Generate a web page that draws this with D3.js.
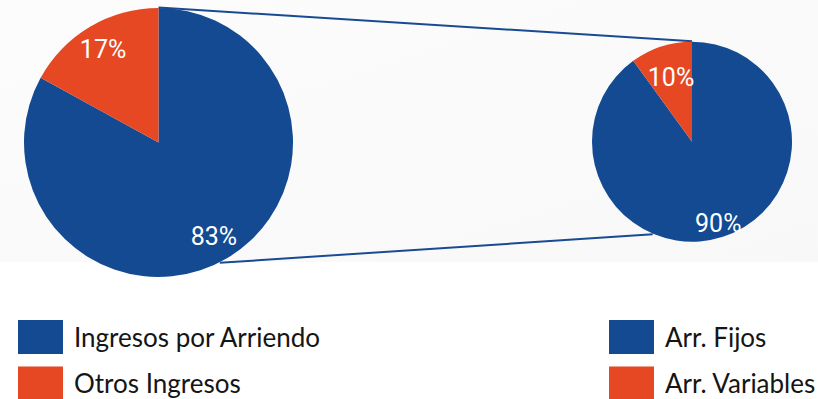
<!DOCTYPE html>
<html>
<head>
<meta charset="utf-8">
<script src="https://cdn.jsdelivr.net/npm/d3@7"></script>
<style>
  body { margin: 0; background: #fff; }
  svg { display: block; }
</style>
</head>
<body>
<svg id="chart"></svg>
<script>
// Data
const mainLabels = ["Ingresos por Arriendo", "Otros Ingresos"];
const mainValues = [83, 17];
const subLabels = ["Arr. Fijos", "Arr. Variables"];
const subValues = [90, 10];
const colors = ["#134a91", "#e54823"];

const width = 818, height = 399;

let svg = d3.select("#chart")
    .attr("width", width)
    .attr("height", height);

// light panel behind the pies
let grad = svg.append("defs").append("linearGradient")
    .attr("id", "bg").attr("x1", "0").attr("y1", "0").attr("x2", "1").attr("y2", "1");
grad.append("stop").attr("offset", "0").attr("stop-color", "#fcfcfc");
grad.append("stop").attr("offset", "1").attr("stop-color", "#f8f8f9");
svg.append("rect")
    .attr("width", width).attr("height", 262)
    .attr("fill", "url(#bg)");

// pie settings: center, radius, label radius (fraction of r) per slice
let pies = [
    {cx: 158.5, cy: 142.5, r: 134.5, values: mainValues, labelR: [0.81, 0.81]},
    {cx: 692, cy: 141.7, r: 100, values: subValues, labelR: [0.85, 0.68]}
];

let pie = d3.pie().sort(null).value(function(d) { return d; });

// connector lines between the two pies (angles in degrees, clockwise from top)
let connectors = [[0, 0], [153, 203]];
function pt(p, deg, rr) {
    let a = deg * Math.PI / 180;
    return [p.cx + rr * Math.sin(a), p.cy - rr * Math.cos(a)];
}
connectors.forEach(function(c) {
    let a = pt(pies[0], c[0], pies[0].r + 0.5),
        b = pt(pies[1], c[1], pies[1].r + 0.5);
    svg.append("line")
        .attr("x1", a[0]).attr("y1", a[1])
        .attr("x2", b[0]).attr("y2", b[1])
        .attr("stroke", "#184b92")
        .attr("stroke-width", 2);
});

pies.forEach(function(p) {
    let g = svg.append("g")
        .attr("transform", "translate(" + p.cx + "," + p.cy + ")");
    let arc = d3.arc().innerRadius(0).outerRadius(p.r);
    let arcs = pie(p.values);

    g.selectAll("path")
        .data(arcs)
        .enter().append("path")
        .attr("d", arc)
        .attr("fill", function(d, i) { return colors[i]; });

    g.selectAll("text")
        .data(arcs)
        .enter().append("text")
        .attr("transform", function(d, i) {
            let lr = p.r * p.labelR[i];
            let c = d3.arc().innerRadius(lr).outerRadius(lr).centroid(d);
            return "translate(" + c[0] + "," + c[1] + ")";
        })
        .attr("text-anchor", "middle")
        .attr("dy", "0.36em")
        .attr("fill", "#fff")
        .style("font-family", "Roboto, 'Liberation Sans', sans-serif")
        .style("font-size", "25px")
        .text(function(d) { return d.data + "%"; });
});

// legends
let legends = [
    {x: 18, labels: mainLabels},
    {x: 609, labels: subLabels}
];
legends.forEach(function(l) {
    let g = svg.append("g");
    l.labels.forEach(function(name, i) {
        let y = 320 + i * 46.5;
        g.append("rect")
            .attr("x", l.x).attr("y", y)
            .attr("width", 45).attr("height", 34)
            .attr("fill", colors[i]);
        g.append("text")
            .attr("x", l.x + 56).attr("y", y + 26.5)
            .attr("fill", "#151515")
            .style("font-family", "Lato, 'Open Sans', sans-serif")
            .style("font-size", "26px")
            .text(name);
    });
});
</script>
</body>
</html>
